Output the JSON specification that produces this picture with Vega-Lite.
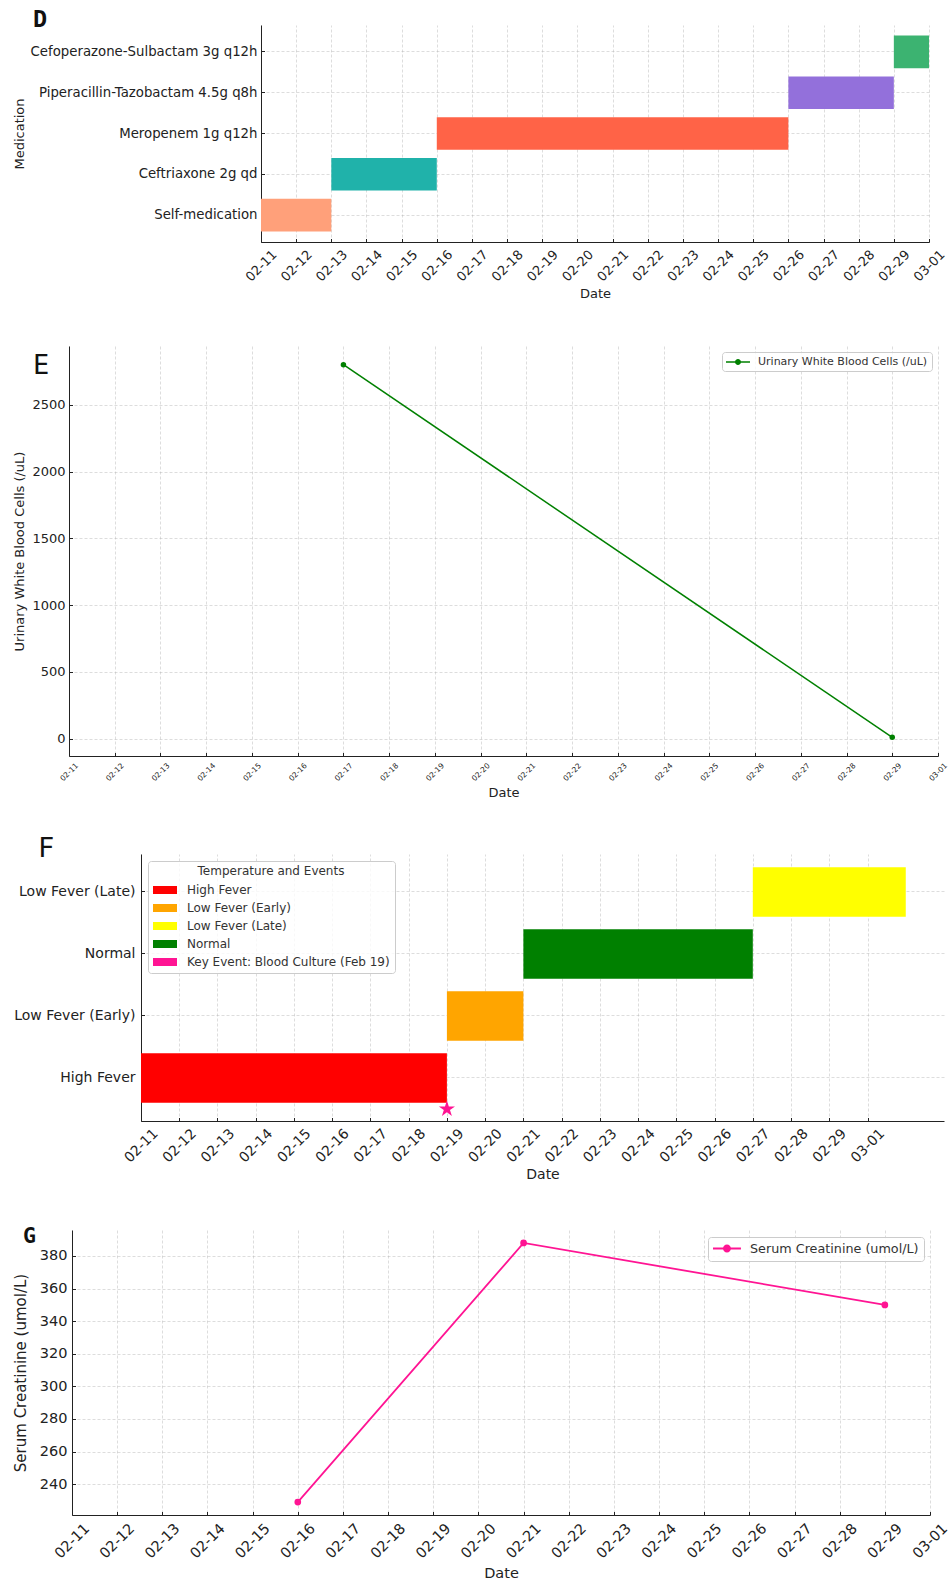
{
  "$schema": "https://vega.github.io/schema/vega-lite/v6.json",
  "background": "white",
  "padding": {"left": 12, "top": 7, "right": 2, "bottom": 2},
  "datasets": {
    "meds": [
      {"medication": "Self-medication", "start": "2024-02-11", "end": "2024-02-13"},
      {"medication": "Ceftriaxone 2g qd", "start": "2024-02-13", "end": "2024-02-16"},
      {"medication": "Meropenem 1g q12h", "start": "2024-02-16", "end": "2024-02-26"},
      {"medication": "Piperacillin-Tazobactam 4.5g q8h", "start": "2024-02-26", "end": "2024-02-29"},
      {"medication": "Cefoperazone-Sulbactam 3g q12h", "start": "2024-02-29", "end": "2024-03-01"}
    ],
    "uwbc": [
      {"date": "2024-02-17", "value": 2800, "series": "Urinary White Blood Cells (/uL)"},
      {"date": "2024-02-29", "value": 10, "series": "Urinary White Blood Cells (/uL)"}
    ],
    "temps": [
      {"category": "High Fever", "label": "High Fever", "start": "2024-02-11", "end": "2024-02-19"},
      {"category": "Low Fever (Early)", "label": "Low Fever (Early)", "start": "2024-02-19", "end": "2024-02-21"},
      {"category": "Normal", "label": "Normal", "start": "2024-02-21", "end": "2024-02-27"},
      {"category": "Low Fever (Late)", "label": "Low Fever (Late)", "start": "2024-02-27", "end": "2024-03-02"}
    ],
    "events": [
      {"category": "High Fever", "label": "Key Event: Blood Culture (Feb 19)", "date": "2024-02-19"}
    ],
    "creat": [
      {"date": "2024-02-16", "value": 229, "series": "Serum Creatinine (umol/L)"},
      {"date": "2024-02-21", "value": 388, "series": "Serum Creatinine (umol/L)"},
      {"date": "2024-02-29", "value": 350, "series": "Serum Creatinine (umol/L)"}
    ],
    "none": []
  },
  "spacing": 35,
  "resolve": {"scale": {"color": "independent", "x": "independent", "y": "independent"}, "legend": {"color": "independent"}},
  "vconcat": [
    {
      "spacing": 45,
      "resolve": {"scale": {"color": "independent", "x": "independent", "y": "independent"}, "legend": {"color": "independent"}},
      "vconcat": [
        {
          "spacing": 0,
          "resolve": {"scale": {"color": "independent", "x": "independent", "y": "independent"}, "legend": {"color": "independent"}},
          "hconcat": [
            {"width": 1, "height": 1, "data": {"name": "none"}, "mark": {"type": "point"}, "encoding": {}},
            {
              "width": 668,
              "height": 217,
              "title": {"text": "D", "dx": -228, "dy": 10, "fontSize": 23.5, "fontWeight": "bold"},
              "data": {"name": "meds"},
              "mark": {"type": "bar"},
              "encoding": {
                "y": {
                  "field": "medication", "type": "nominal",
                  "sort": ["Cefoperazone-Sulbactam 3g q12h", "Piperacillin-Tazobactam 4.5g q8h", "Meropenem 1g q12h", "Ceftriaxone 2g qd", "Self-medication"],
                  "scale": {"paddingInner": 0.2, "paddingOuter": 0.26},
                  "axis": {"title": "Medication", "bandPosition": 0.5, "grid": true, "labelFontSize": 13.3, "titleFontSize": 13, "labelPadding": 7.5, "titlePadding": 35, "labelLimit": 400}
                },
                "x": {
                  "field": "start", "type": "temporal",
                  "scale": {"type": "utc", "domain": [{"year": 2024, "month": 2, "date": 11, "utc": true}, {"year": 2024, "month": 3, "date": 1, "utc": true}], "nice": false},
                  "axis": {"title": "Date", "format": "%m-%d", "tickCount": {"interval": "day", "step": 1}, "labelAngle": -45, "labelAlign": "center", "labelBaseline": "middle", "labelPadding": 27, "labelFontSize": 13, "titleFontSize": 13, "titlePadding": 3.5, "grid": true}
                },
                "x2": {"field": "end"},
                "color": {
                  "field": "medication", "type": "nominal",
                  "scale": {"domain": ["Self-medication", "Ceftriaxone 2g qd", "Meropenem 1g q12h", "Piperacillin-Tazobactam 4.5g q8h", "Cefoperazone-Sulbactam 3g q12h"], "range": ["#FFA07A", "#20B2AA", "#FF6347", "#9370DB", "#3CB371"]},
                  "legend": null
                }
              }
            }
          ]
        },
        {
          "spacing": 0,
          "resolve": {"scale": {"color": "independent", "x": "independent", "y": "independent"}, "legend": {"color": "independent"}},
          "hconcat": [
            {"width": 1, "height": 1, "data": {"name": "none"}, "mark": {"type": "point"}, "encoding": {}},
            {
              "width": 869,
              "height": 410,
              "title": {"text": "E", "dx": -36, "dy": 38, "fontSize": 27, "fontWeight": "normal"},
              "data": {"name": "uwbc"},
              "encoding": {
                "x": {
                  "field": "date", "type": "temporal",
                  "scale": {"type": "utc", "domain": [{"year": 2024, "month": 2, "date": 11, "utc": true}, {"year": 2024, "month": 3, "date": 1, "utc": true}], "nice": false},
                  "axis": {"title": "Date", "format": "%m-%d", "tickCount": {"interval": "day", "step": 1}, "labelAngle": -45, "labelAlign": "center", "labelBaseline": "middle", "labelPadding": 19.5, "labelFontSize": 7.5, "titleFontSize": 13, "titlePadding": 4.5, "grid": true}
                },
                "y": {
                  "field": "value", "type": "quantitative",
                  "scale": {"domain": [-129.5, 2939.5], "nice": false, "zero": false},
                  "axis": {"title": "Urinary White Blood Cells (/uL)", "format": "d", "values": [0, 500, 1000, 1500, 2000, 2500], "labelFontSize": 13, "titleFontSize": 13, "labelPadding": 7.5, "titlePadding": 5.6, "grid": true}
                }
              },
              "layer": [
                {"mark": {"type": "line", "color": "#008000", "strokeWidth": 1.5}},
                {
                  "mark": {"type": "point", "filled": true, "opacity": 1, "size": 30},
                  "encoding": {
                    "color": {
                      "field": "series", "type": "nominal",
                      "scale": {"range": ["#008000"]},
                      "legend": {
                        "title": null, "orient": "top-right", "offset": 6,
                        "fillColor": "rgba(255,255,255,0.8)", "strokeColor": "#cccccc", "cornerRadius": 3, "padding": 4,
                        "labelFontSize": 11, "labelColor": "#333333", "labelLimit": 400, "labelOffset": 20,
                        "symbolType": "M-1,-0.125H3V0.125H-1Z M1.5,0A0.5,0.5,0,1,1,0.5,0A0.5,0.5,0,1,1,1.5,0Z",
                        "symbolSize": 144, "symbolStrokeWidth": 0,
                        "encode": {"symbols": {"update": {"fill": {"value": "#008000"}, "opacity": {"value": 1}}}}
                      }
                    }
                  }
                }
              ]
            }
          ]
        }
      ]
    },
    {
      "spacing": 43,
      "resolve": {"scale": {"color": "independent", "x": "independent", "y": "independent"}, "legend": {"color": "independent"}},
      "vconcat": [
        {
          "spacing": 0,
          "resolve": {"scale": {"color": "independent", "x": "independent", "y": "independent"}, "legend": {"color": "independent"}},
          "hconcat": [
            {"width": 1, "height": 1, "data": {"name": "none"}, "mark": {"type": "point"}, "encoding": {}},
            {
              "width": 803,
              "height": 267,
              "title": {"text": "F", "dx": -103, "dy": 13, "fontSize": 27, "fontWeight": "normal"},
              "resolve": {"scale": {"color": "shared"}, "legend": {"color": "shared"}},
              "layer": [
                {
                  "data": {"name": "temps"},
                  "mark": {"type": "bar"},
                  "encoding": {
                    "y": {
                      "field": "category", "type": "nominal",
                      "sort": ["Low Fever (Late)", "Normal", "Low Fever (Early)", "High Fever"],
                      "scale": {"paddingInner": 0.2, "paddingOuter": 0.253, "align": 0.42},
                      "axis": {"title": null, "bandPosition": 0.5, "grid": true, "labelFontSize": 14, "labelPadding": 9.5, "labelLimit": 400}
                    },
                    "x": {
                      "field": "start", "type": "temporal",
                      "scale": {"type": "utc", "domain": [{"year": 2024, "month": 2, "date": 11, "utc": true}, {"year": 2024, "month": 3, "date": 3, "utc": true}], "nice": false},
                      "axis": {
                        "title": "Date", "format": "%m-%d",
                        "values": [
                          {"year": 2024, "month": 2, "date": 11, "utc": true},
                          {"year": 2024, "month": 2, "date": 12, "utc": true},
                          {"year": 2024, "month": 2, "date": 13, "utc": true},
                          {"year": 2024, "month": 2, "date": 14, "utc": true},
                          {"year": 2024, "month": 2, "date": 15, "utc": true},
                          {"year": 2024, "month": 2, "date": 16, "utc": true},
                          {"year": 2024, "month": 2, "date": 17, "utc": true},
                          {"year": 2024, "month": 2, "date": 18, "utc": true},
                          {"year": 2024, "month": 2, "date": 19, "utc": true},
                          {"year": 2024, "month": 2, "date": 20, "utc": true},
                          {"year": 2024, "month": 2, "date": 21, "utc": true},
                          {"year": 2024, "month": 2, "date": 22, "utc": true},
                          {"year": 2024, "month": 2, "date": 23, "utc": true},
                          {"year": 2024, "month": 2, "date": 24, "utc": true},
                          {"year": 2024, "month": 2, "date": 25, "utc": true},
                          {"year": 2024, "month": 2, "date": 26, "utc": true},
                          {"year": 2024, "month": 2, "date": 27, "utc": true},
                          {"year": 2024, "month": 2, "date": 28, "utc": true},
                          {"year": 2024, "month": 2, "date": 29, "utc": true},
                          {"year": 2024, "month": 3, "date": 1, "utc": true}
                        ],
                        "labelAngle": -45, "labelAlign": "center", "labelBaseline": "middle", "labelPadding": 28, "labelFontSize": 14, "titleFontSize": 14, "titlePadding": 3, "grid": true
                      }
                    },
                    "x2": {"field": "end"},
                    "color": {
                      "field": "label", "type": "nominal",
                      "scale": {"domain": ["High Fever", "Low Fever (Early)", "Low Fever (Late)", "Normal", "Key Event: Blood Culture (Feb 19)"], "range": ["#FF0000", "#FFA500", "#FFFF00", "#008000", "#FF1493"]},
                      "legend": {
                        "title": "Temperature and Events", "orient": "top-left", "offset": 6.5,
                        "fillColor": "rgba(255,255,255,0.8)", "strokeColor": "#cccccc", "cornerRadius": 3, "padding": 5,
                        "titleFontSize": 12, "titleFontWeight": "normal", "titleColor": "#333333", "titleAnchor": "middle", "titlePadding": 4,
                        "labelFontSize": 12, "labelColor": "#333333", "labelLimit": 400, "labelOffset": 18,
                        "symbolType": "M-1,-0.5H2V0.5H-1Z", "symbolSize": 256, "symbolStrokeWidth": 0, "rowPadding": 4
                      }
                    }
                  }
                },
                {
                  "data": {"name": "events"},
                  "mark": {"type": "point", "shape": "M0,-1L0.225,-0.309L0.951,-0.309L0.363,0.118L0.588,0.809L0,0.382L-0.588,0.809L-0.363,0.118L-0.951,-0.309L-0.225,-0.309Z", "filled": true, "opacity": 1, "size": 289},
                  "encoding": {
                    "y": {"field": "category", "type": "nominal", "bandPosition": 1.125, "sort": ["Low Fever (Late)", "Normal", "Low Fever (Early)", "High Fever"]},
                    "x": {"field": "date", "type": "temporal"},
                    "color": {"field": "label", "type": "nominal"}
                  }
                }
              ]
            }
          ]
        },
        {
          "spacing": 0,
          "resolve": {"scale": {"color": "independent", "x": "independent", "y": "independent"}, "legend": {"color": "independent"}},
          "hconcat": [
            {"width": 1, "height": 1, "data": {"name": "none"}, "mark": {"type": "point"}, "encoding": {}},
            {
              "width": 858,
              "height": 285,
              "title": {"text": "G", "dx": -49, "dy": 21, "fontSize": 21.5, "fontWeight": "bold"},
              "data": {"name": "creat"},
              "encoding": {
                "x": {
                  "field": "date", "type": "temporal",
                  "scale": {"type": "utc", "domain": [{"year": 2024, "month": 2, "date": 11, "utc": true}, {"year": 2024, "month": 3, "date": 1, "utc": true}], "nice": false},
                  "axis": {"title": "Date", "format": "%m-%d", "tickCount": {"interval": "day", "step": 1}, "labelAngle": -45, "labelAlign": "center", "labelBaseline": "middle", "labelPadding": 29.5, "labelFontSize": 14.5, "titleFontSize": 14.5, "titlePadding": 6, "grid": true}
                },
                "y": {
                  "field": "value", "type": "quantitative",
                  "scale": {"domain": [221.05, 395.95], "nice": false, "zero": false},
                  "axis": {"title": "Serum Creatinine (umol/L)", "values": [240, 260, 280, 300, 320, 340, 360, 380], "labelFontSize": 14.5, "titleFontSize": 15, "labelPadding": 8.5, "titlePadding": 10.5, "grid": true}
                }
              },
              "layer": [
                {"mark": {"type": "line", "color": "#FF1493", "strokeWidth": 1.8}},
                {
                  "mark": {"type": "point", "filled": true, "opacity": 1, "size": 45},
                  "encoding": {
                    "color": {
                      "field": "series", "type": "nominal",
                      "scale": {"range": ["#FF1493"]},
                      "legend": {
                        "title": null, "orient": "top-right", "offset": 6.5,
                        "fillColor": "rgba(255,255,255,0.8)", "strokeColor": "#cccccc", "cornerRadius": 3, "padding": 5,
                        "labelFontSize": 12.75, "labelColor": "#333333", "labelLimit": 400, "labelOffset": 24,
                        "symbolType": "M-1,-0.138H3.3V0.138H-1Z M1.765,0A0.615,0.615,0,1,1,0.535,0A0.615,0.615,0,1,1,1.765,0Z",
                        "symbolSize": 169, "symbolStrokeWidth": 0,
                        "encode": {"symbols": {"update": {"fill": {"value": "#FF1493"}, "opacity": {"value": 1}}}}
                      }
                    }
                  }
                }
              ]
            }
          ]
        }
      ]
    }
  ],
  "config": {
    "font": "DejaVu Sans",
    "view": {"stroke": null},
    "axis": {
      "domainColor": "#222222", "domainWidth": 1,
      "tickColor": "#222222", "tickSize": -3.5, "tickWidth": 1,
      "gridColor": "#b0b0b0", "gridOpacity": 0.55, "gridDash": [3, 2], "gridWidth": 0.8,
      "labelColor": "#222222", "titleColor": "#222222", "titleFontWeight": "normal",
      "labelFont": "DejaVu Sans", "titleFont": "DejaVu Sans",
      "labelFlush": false, "labelOverlap": false, "zindex": 1
    },
    "title": {"anchor": "start", "frame": "group", "offset": 0, "baseline": "alphabetic", "color": "#111111", "font": "DejaVu Sans Mono"},
    "legend": {"labelFont": "DejaVu Sans", "titleFont": "DejaVu Sans"}
  }
}
